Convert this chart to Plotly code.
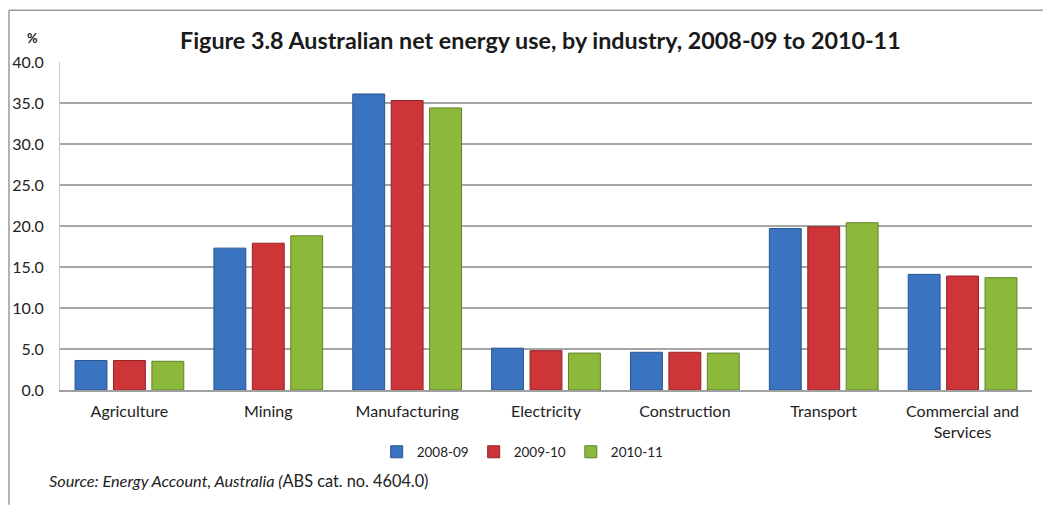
import plotly.graph_objects as go

categories = ["Agriculture", "Mining", "Manufacturing", "Electricity", "Construction", "Transport", "Commercial and<br>Services"]
series_names = ["2008-09", "2009-10", "2010-11"]
v_2008_09 = [3.6, 17.3, 36.1, 5.1, 4.6, 19.7, 14.1]
v_2009_10 = [3.6, 17.9, 35.3, 4.8, 4.6, 19.9, 13.9]
v_2010_11 = [3.5, 18.8, 34.4, 4.5, 4.5, 20.4, 13.7]
y_ticks = [0, 5, 10, 15, 20, 25, 30, 35, 40]
y_tick_labels = ["0.0", "5.0", "10.0", "15.0", "20.0", "25.0", "30.0", "35.0", "40.0"]

colors = ["#3a73bf", "#cd3538", "#8cb93a"]
line_colors = ["#2a5590", "#922427", "#61822a"]

FONT = "Lato, 'Open Sans', sans-serif"

fig = go.Figure()
for name, vals, c, lc in zip(series_names, [v_2008_09, v_2009_10, v_2010_11], colors, line_colors):
    fig.add_trace(go.Bar(x=categories, y=vals, name=name,
                         marker=dict(color=c, line=dict(color=lc, width=1))))

fig.update_layout(
    width=1043, height=497,
    margin=dict(l=52, r=19, t=54, b=115, autoexpand=False),
    paper_bgcolor="white", plot_bgcolor="white",
    barmode="group", bargap=0.17, bargroupgap=0.17,
    font=dict(family=FONT, color="#222222"),
    showlegend=True,
    legend=dict(orientation="h", x=0.476, xanchor="center", y=-0.189, yanchor="middle",
                font=dict(size=13.5, family=FONT), traceorder="normal"),
    xaxis=dict(showgrid=False, showline=True, linecolor="#a0a0a0", linewidth=1.5,
               tickfont=dict(size=16, family=FONT), ticks="", ticklabelstandoff=6,
               fixedrange=True),
    yaxis=dict(range=[0, 40], tickvals=y_ticks, ticktext=y_tick_labels,
               showgrid=True, gridcolor="#a6a6a6", gridwidth=1.5,
               showline=True, linecolor="#c8c8c8", linewidth=1,
               tickfont=dict(size=16, family=FONT), ticks="", ticklabelstandoff=12,
               zeroline=False),
    annotations=[
        dict(text="<b>Figure 3.8 Australian net energy use, by industry, 2008-09 to 2010-11</b>",
             xref="paper", yref="paper", x=0.4944, y=1.067, xanchor="center", yanchor="middle",
             showarrow=False, font=dict(size=23.3, family=FONT, color="#1a1a1a")),
        dict(text="<b>%</b>", xref="paper", yref="paper", x=-0.028, y=1.073,
             xanchor="center", yanchor="middle", showarrow=False,
             font=dict(size=13, family=FONT, color="#1a1a1a")),
        dict(text="<i>Source: Energy Account, Australia (</i>ABS cat. no. 4604.0)",
             xref="paper", yref="paper", x=-0.0135, y=-0.277, xanchor="left", yanchor="middle",
             showarrow=False, font=dict(size=16.3, family=FONT, color="#222222")),
    ],
    shapes=[
        dict(type="line", xref="paper", yref="paper", x0=-0.0525, x1=1.03, y0=1.158, y1=1.158,
             line=dict(color="#9a9a9a", width=1.5)),
        dict(type="line", xref="paper", yref="paper", x0=-0.0525, x1=-0.0525, y0=1.158, y1=-0.35,
             line=dict(color="#9a9a9a", width=1.5)),
    ],
)

fig.write_html("out.html")
